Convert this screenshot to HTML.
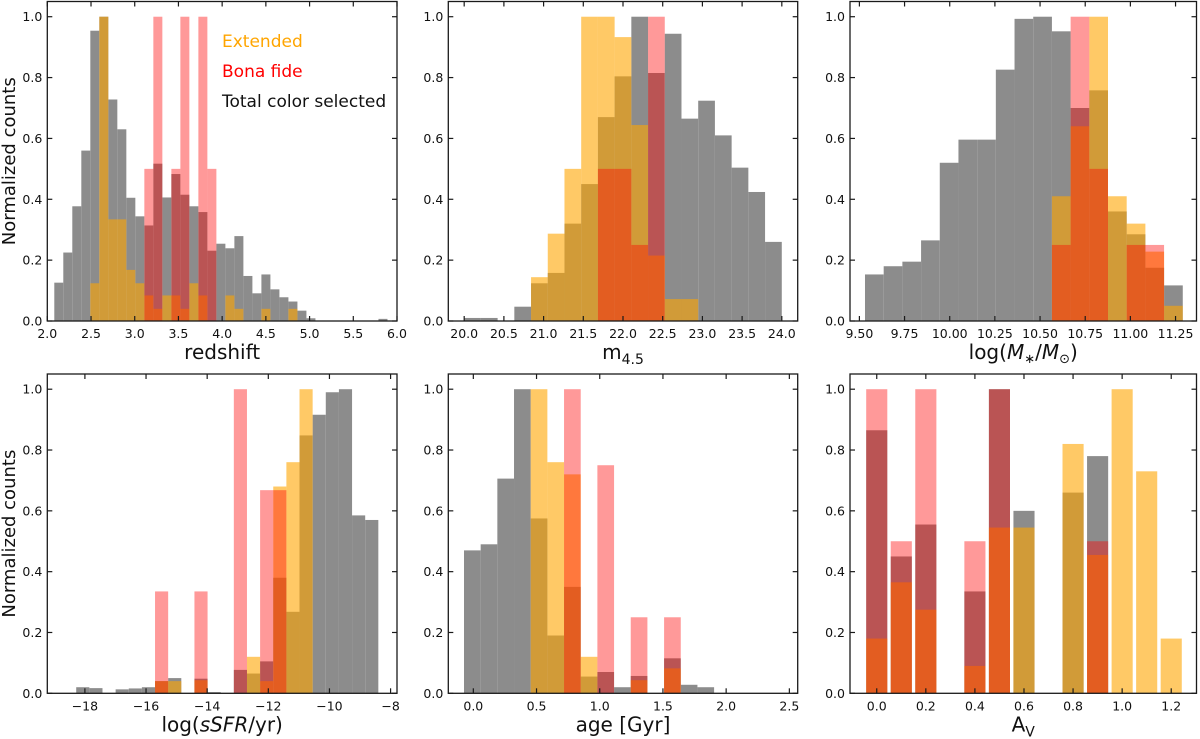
<!DOCTYPE html>
<html><head><meta charset="utf-8"><style>
html,body{margin:0;padding:0;background:#fff;}
svg{display:block;font-family:"DejaVu Sans","Liberation Sans",sans-serif;}
</style></head><body>
<svg id="fig" width="1200" height="739" viewBox="0 0 1200 739" xmlns="http://www.w3.org/2000/svg"></svg>
<script>
// ---- Panel 1: redshift ----
const zStart = 2.08, zWidth = 0.103;
const zGray = [0.126,0.225,0.377,0.56,0.954,1.0,0.728,0.63,0.405,0.344,0.314,0.517,0.406,0.483,0.415,0.377,0.358,0.231,0.254,0.239,0.279,0.148,0.091,0.153,0.104,0.078,0.064,0.034,0.009,0,0,0,0,0,0,0,0.007];
const zOrange = [0,0,0,0,0.124,1.0,0.334,0.334,0.168,0.124,0.084,0.04,0.084,0.084,0.04,0.124,0.084,0,0,0.084,0.04,0,0,0.04,0,0,0.04];
const zRed = [0,0,0,0,0,0,0,0,0,0,0.5,1.0,0,0.5,1.0,0,1.0,0.5];
const zTicks = ["2.0","2.5","3.0","3.5","4.0","4.5","5.0","5.5","6.0"];
// ---- Panel 2: m4.5 ----
const mStart = 20.0, mWidth = 0.2105;
const mGray = [0.01,0.01,0,0.047,0.124,0.158,0.32,0.45,0.67,0.804,1.0,0.815,0.944,0.665,0.724,0.61,0.504,0.424,0.26];
const mOrange = [0,0,0,0,0.144,0.287,0.5,1.0,1.0,0.933,0.644,0.215,0.072,0.072];
const mRed = [0,0,0,0,0,0,0,0,0.5,0.5,0.25,1.0];
const mTicks = ["20.0","20.5","21.0","21.5","22.0","22.5","23.0","23.5","24.0"];
// ---- Panel 3: log stellar mass ----
const sStart = 9.531, sWidth = 0.10347;
const sGray = [0.153,0.18,0.195,0.265,0.52,0.596,0.596,0.826,0.993,1.0,0.952,0.70,0.758,0.36,0.285,0.175,0.117];
const sOrange = [0,0,0,0,0,0,0,0,0,0,0.41,0.64,1.0,0.41,0.32,0.228,0.05];
const sRed = [0,0,0,0,0,0,0,0,0,0,0.25,1.0,0.5,0,0.25,0.25,0];
const sTicks = ["9.50","9.75","10.00","10.25","10.50","10.75","11.00","11.25"];
// ---- Panel 4: log sSFR ----
const fStart = -18.284, fWidth = 0.4297;
const fGray = [0.02,0.017,0,0.013,0.016,0.02,0.04,0.05,0,0.048,0.004,0,0.077,0.065,0.105,0.38,0.268,0.848,0.916,0.99,1.0,0.585,0.57];
const fOrange = [0,0,0,0,0,0,0.04,0.04,0,0.043,0,0,0,0.12,0.04,0.68,0.76,1.0];
const fRed = [0,0,0,0,0,0,0.335,0,0,0.335,0,0,1.0,0,0.668,0.668];
const fTicks = ["−18","−16","−14","−12","−10","−8"];
// ---- Panel 5: age ----
const aStart = -0.0738, aWidth = 0.1319;
const aGray = [0.47,0.49,0.706,1.0,0.575,0.19,0.35,0.055,0.07,0.02,0.057,0,0.115,0.028,0.02];
const aOrange = [0,0,0,0,1.0,0.76,0.72,0.12,0,0,0.043,0,0.082];
const aRed = [0,0,0,0,0,0,1.0,0,0.75,0,0.25,0,0.25];
const aTicks = ["0.0","0.5","1.0","1.5","2.0","2.5"];
// ---- Panel 6: Av ----
const vCenters = [0.0,0.1,0.2,0.3,0.4,0.5,0.6,0.7,0.8,0.9,1.0,1.1,1.2];
const vWidth = 0.086;
const vGray = [0.865,0.45,0.555,0,0.335,1.0,0.6,0,0.66,0.78,0,0,0];
const vOrange = [0.18,0.365,0.275,0,0.09,0.545,0.545,0,0.82,0.455,1.0,0.73,0.18];
const vRed = [1.0,0.5,1.0,0,0.5,1.0,0,0,0,0.5,0,0,0];
const vTicks = ["0.0","0.2","0.4","0.6","0.8","1.0","1.2"];

const NS = "http://www.w3.org/2000/svg";
const svg = document.getElementById('fig');
function mk(tag, attrs, parent){ const e=document.createElementNS(NS,tag); for(const k in attrs) e.setAttribute(k,attrs[k]); (parent||svg).appendChild(e); return e; }

const COLORS = {gray:"#8c8c8c", orange:"rgba(255,165,0,0.6)", red:"rgba(255,0,0,0.4)"};
const yTickVals = [0,0.2,0.4,0.6,0.8,1.0];

function panel(p){
  const g = mk('g',{});
  
  
  const xs = v => p.x0 + (v - p.xmin)/(p.xmax - p.xmin)*(p.x1 - p.x0);
  const ys = v => p.yb - v*(p.yb - p.yt)/1.05;
  const series = [["gray",p.gray],["orange",p.orange],["red",p.red]];
  series.forEach(([c,arr])=>{
    arr.forEach((v,i)=>{
      if(v<=0) return;
      let l,r;
      if(p.centers){ l = p.centers[i]-p.bw/2; r = p.centers[i]+p.bw/2; }
      else { l = p.start + i*p.bw; r = l + p.bw; }
      const rc = mk('rect',{x:xs(l),y:ys(v),width:xs(r)-xs(l),height:ys(0)-ys(v),fill:COLORS[c]},g);
      
      
    });
  });
  const sp = mk('rect',{x:p.x0,y:p.yt,width:p.x1-p.x0,height:p.yb-p.yt,fill:"none",stroke:"#1a1a1a","stroke-width":1.3},g);
  
  
  p.ticks.forEach(t=>{
    const v = parseFloat(t.replace('−','-'));
    const X = xs(v);
    mk('line',{x1:X,x2:X,y1:p.yb,y2:p.yb-5,stroke:"#1a1a1a","stroke-width":1.2},g);
    mk('line',{x1:X,x2:X,y1:p.yt,y2:p.yt+5,stroke:"#1a1a1a","stroke-width":1.2},g);
    const tx = mk('text',{x:X,y:p.yb+17,"font-size":12.5,"text-anchor":"middle",fill:"#111"},g);
    tx.textContent = t;
    
    
  });
  yTickVals.forEach(v=>{
    const Y = ys(v);
    mk('line',{x1:p.x0,x2:p.x0+5,y1:Y,y2:Y,stroke:"#1a1a1a","stroke-width":1.2},g);
    mk('line',{x1:p.x1,x2:p.x1-5,y1:Y,y2:Y,stroke:"#1a1a1a","stroke-width":1.2},g);
    const tx = mk('text',{x:p.x0-5,y:Y+4.5,"font-size":12.5,"text-anchor":"end",fill:"#111"},g);
    tx.textContent = v.toFixed(1);
    
    
  });
  const xl = mk('text',{x:(p.x0+p.x1)/2,y:p.yb+38,"font-size":20,"text-anchor":"middle",fill:"#111"},g);
  xl.innerHTML = p.xlabel;
  
  
  if(p.ylabel){
    const cy=(p.yt+p.yb)/2;
    const yl = mk('text',{x:15,y:cy,"font-size":18,"text-anchor":"middle",fill:"#111",transform:`rotate(-90 15 ${cy})`},g);
    yl.textContent = "Normalized counts";
    
    
  }
}

const R1 = {yt:1.5, yb:321}, R2 = {yt:374, yb:693.3};
panel(Object.assign({name:'redshift-panel',x0:47.3,x1:397,xmin:2.0,xmax:6.0,start:zStart,bw:zWidth,gray:zGray,orange:zOrange,red:zRed,ticks:zTicks,xlabel:'redshift',ylabel:true},R1));
panel(Object.assign({name:'m45-panel',x0:448.3,x1:797.7,xmin:19.8,xmax:24.2,start:mStart,bw:mWidth,gray:mGray,orange:mOrange,red:mRed,ticks:mTicks,xlabel:'m<tspan font-size="14" dy="5">4.5</tspan>'},R1));
panel(Object.assign({name:'mass-panel',x0:850,x1:1196.5,xmin:9.448,xmax:11.366,start:sStart,bw:sWidth,gray:sGray,orange:sOrange,red:sRed,ticks:sTicks,xlabel:'log(<tspan font-style="italic">M</tspan><tspan font-size="13" dy="4">∗</tspan><tspan dy="-4">/</tspan><tspan font-style="italic">M</tspan><tspan font-size="13" dy="4">⊙</tspan><tspan dy="-4">)</tspan>'},R1));
panel(Object.assign({name:'ssfr-panel',x0:47.3,x1:397,xmin:-19.23,xmax:-7.79,start:fStart,bw:fWidth,gray:fGray,orange:fOrange,red:fRed,ticks:fTicks,xlabel:'log(<tspan font-style="italic">sSFR</tspan>/yr)',ylabel:true},R2));
panel(Object.assign({name:'age-panel',x0:448.3,x1:797.7,xmin:-0.198,xmax:2.566,start:aStart,bw:aWidth,gray:aGray,orange:aOrange,red:aRed,ticks:aTicks,xlabel:'age [Gyr]'},R2));
panel(Object.assign({name:'av-panel',x0:850,x1:1196.5,xmin:-0.109,xmax:1.303,centers:vCenters,bw:vWidth,gray:vGray,orange:vOrange,red:vRed,ticks:vTicks,xlabel:'A<tspan font-size="14" dy="5">V</tspan>'},R2));

[["Extended","#ffa500",47],["Bona fide","#ff0000",77],["Total color selected","#111",107]].forEach(([t,c,y])=>{
  const e = mk('text',{x:222,y:y,"font-size":17,fill:c});
  e.textContent = t;
  
  
});
</script>
</body></html>
